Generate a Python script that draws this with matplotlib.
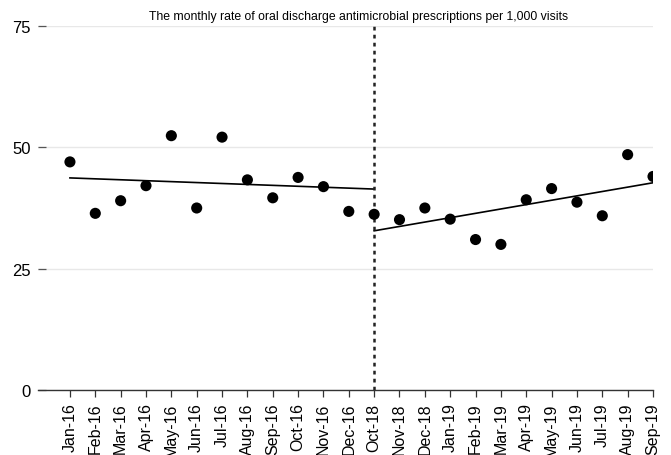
import matplotlib.pyplot as plt

plt.rcParams['font.family'] = ['Liberation Sans', 'DejaVu Sans']

months = ['Jan-16', 'Feb-16', 'Mar-16', 'Apr-16', 'May-16', 'Jun-16', 'Jul-16', 'Aug-16',
          'Sep-16', 'Oct-16', 'Nov-16', 'Dec-16', 'Oct-18', 'Nov-18', 'Dec-18', 'Jan-19',
          'Feb-19', 'Mar-19', 'Apr-19', 'May-19', 'Jun-19', 'Jul-19', 'Aug-19', 'Sep-19']
rate = [47.0, 36.4, 39.0, 42.1, 52.4, 37.5, 52.1, 43.3, 39.6, 43.8, 41.9, 36.8,
        36.2, 35.1, 37.5, 35.2, 31.0, 30.0, 39.2, 41.5, 38.7, 35.9, 48.5, 44.0]

# fitted trend, pre and post intervention
pre_x = ['Jan-16', 'Oct-18']
pre_fit = [43.7, 41.4]
post_x = ['Oct-18', 'Sep-19']
post_fit = [32.8, 42.7]
cut = 'Oct-18'

yticks = [0, 25, 50, 75]

fig = plt.figure(figsize=(6.71, 4.56), dpi=100)
ax = fig.add_axes([38 / 671, 1 - 391 / 456, (653 - 38) / 671, (391 - 27) / 456])

pos = {m: i for i, m in enumerate(months)}
x = [pos[m] for m in months]

ax.scatter(x, rate, s=64, color='black', zorder=3, edgecolors='none')
ax.plot([pos[m] for m in pre_x], pre_fit, color='black', linewidth=1.2, zorder=2)
ax.plot([pos[m] for m in post_x], post_fit, color='black', linewidth=1.2, zorder=2)
ax.axvline(pos[cut], color='#222222', linewidth=1.8, linestyle=(0, (1.5, 1.7)), zorder=2)

ax.set_xlim(-1.26, 23)
ax.set_ylim(0, 75)
ax.set_xticks(x)
ax.set_xticklabels(months, rotation=90, fontsize=11.5)
ax.set_yticks(yticks)
ax.set_yticklabels([str(v) for v in yticks], fontsize=12)

for s in ['top', 'right', 'left']:
    ax.spines[s].set_visible(False)
ax.spines['bottom'].set_color('#333333')
ax.spines['bottom'].set_linewidth(1.0)

ax.tick_params(axis='x', direction='out', length=5, width=0.9, color='#333333', pad=4)
ax.tick_params(axis='y', direction='in', length=6, width=0.9, color='#555555', pad=5)

ax.grid(axis='y', color='#e8e8e8', linewidth=1.0, zorder=0)
ax.set_axisbelow(True)

fig.text(359 / 671, 1 - 17 / 456, 'The monthly rate of oral discharge antimicrobial prescriptions per 1,000 visits',
         ha='center', va='center', fontsize=8.8)

fig.savefig('out.png', dpi=100)
